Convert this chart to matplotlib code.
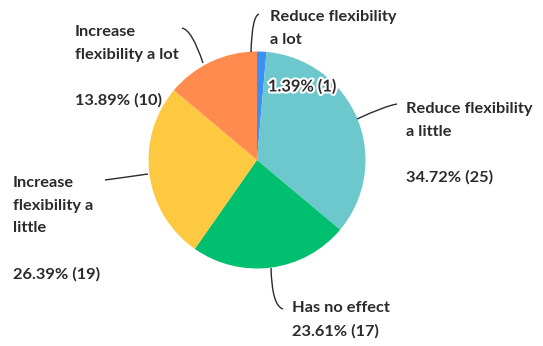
import matplotlib.pyplot as plt
import matplotlib.patheffects as pe
from matplotlib.path import Path
from matplotlib.patches import PathPatch

labels = ['Reduce flexibility\na lot', 'Reduce flexibility\na little', 'Has no effect',
          'Increase\nflexibility a\nlittle', 'Increase\nflexibility a lot']
percents = [1.39, 34.72, 23.61, 26.39, 13.89]
counts = [1, 25, 17, 19, 10]
colors = ['#3d8ef5', '#6cc8cc', '#00bf6f', '#fdc941', '#ff8b4f']


def main():
    plt.rcParams['font.family'] = ['Lato', 'DejaVu Sans']
    fig = plt.figure(figsize=(5.43, 3.46), dpi=100)
    ax = fig.add_axes([0, 0, 1, 1])

    H = 346
    ax.pie(percents, colors=colors, startangle=90, counterclock=False,
           center=(257, H - 160), radius=108.5, frame=True)
    ax.set_xlim(0, 543)
    ax.set_ylim(0, 346)
    ax.axis('off')

    pct = ['%.2f%% (%d)' % (p, c) for p, c in zip(percents, counts)]
    font = dict(fontsize=11.8, fontweight='bold', color='#2b2b2b', va='top', ha='left',
                linespacing=1.78)

    # label text blocks (x, top y in pixels)
    ax.text(270, H - 10, labels[0], **font)
    t = ax.text(268, H - 80, pct[0], **font)
    t.set_path_effects([pe.withStroke(linewidth=3, foreground='white')])
    ax.text(406, H - 102, labels[1] + '\n\n' + pct[1], **font)
    ax.text(292, H - 301, labels[2] + '\n' + pct[2], **font)
    ax.text(13, H - 176, labels[3] + '\n\n' + pct[3], **font)
    ax.text(75, H - 25, labels[4] + '\n\n' + pct[4], **font)

    # connector lines
    connectors = [
        [(251, 52), (252, 16), (259, 14)],
        [(357, 119), (385, 106), (397, 104)],
        [(271, 268), (272, 306), (283, 309)],
        [(148, 174), (120, 178), (105, 180)],
        [(203, 63), (192, 30), (182, 28)],
    ]
    for pts in connectors:
        verts = [(x, H - y) for x, y in pts]
        path = Path(verts, [Path.MOVETO, Path.CURVE3, Path.CURVE3])
        ax.add_patch(PathPatch(path, fill=False, edgecolor='#2b2b2b', linewidth=1.0))

    fig.savefig('out.png', dpi=100)


if __name__ == "__main__":
    main()
